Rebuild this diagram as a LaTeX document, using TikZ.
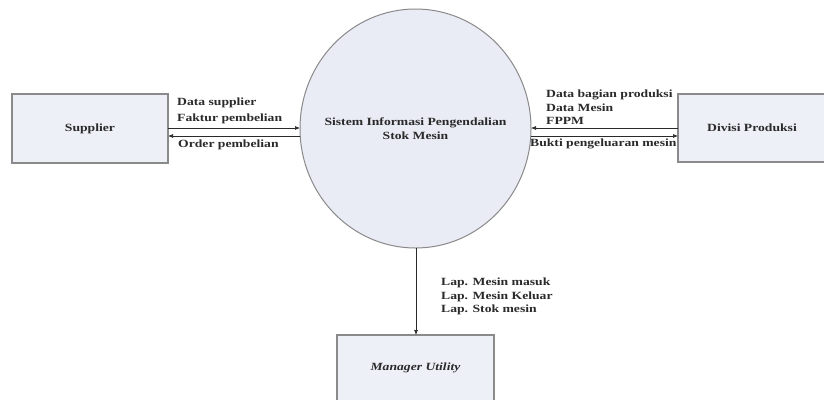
\documentclass[tikz,border=0pt]{standalone}
\usepackage{fontspec}
\setmainfont{Liberation Serif}[FakeStretch=1.24]
\usetikzlibrary{arrows.meta}
\definecolor{boxfill}{HTML}{EEF0F8}
\definecolor{circfill}{HTML}{E9EBF5}
\definecolor{edgegray}{HTML}{8A8A8A}
\definecolor{txt}{HTML}{2A2A2A}
\tikzset{
  entity/.style={draw=edgegray, line width=1.2pt, fill=boxfill},
  proc/.style={draw=edgegray, line width=1pt, fill=circfill},
  flow/.style={draw=txt, line width=0.7pt, -{Latex[length=5pt,width=4pt]}},
  lbl/.style={font=\fontsize{11}{13.5}\selectfont\bfseries, text=txt, inner sep=0pt, align=left},
  ctr/.style={font=\fontsize{11}{13.5}\selectfont\bfseries, text=txt, inner sep=0pt, align=center}
}
\begin{document}
\begin{tikzpicture}[x=1pt,y=-1pt]
\clip (0,0) rectangle (824,399);
\useasboundingbox (0,0) rectangle (824,399);
\fill[white] (0,0) rectangle (824,399);
% entities
\draw[entity] (12,94) rectangle (168,163);
\node[ctr] (sup) at (90,128.5) {Supplier};
\draw[entity] (678,94) rectangle (830,162);
\node[ctr] (div) at (752,128) {Divisi Produksi};
\draw[entity] (337,335) rectangle (494,405);
\node[ctr, font=\fontsize{11}{13.5}\selectfont\bfseries\itshape] (man) at (415.5,368) {Manager Utility};
% process
\draw[proc] (415.5,128.5) ellipse [x radius=115.5, y radius=119.5];
\node[ctr] (sys) at (415.5,128.5) {Sistem Informasi Pengendalian\\Stok Mesin};
% coordinates
\coordinate (s1) at (168,128);
\coordinate (c1) at (300,128);
\coordinate (s2) at (168,136);
\coordinate (c2) at (300,136);
\coordinate (c3) at (531,128);
\coordinate (d3) at (678,128);
\coordinate (c4) at (531,136);
\coordinate (d4) at (678,136);
\coordinate (cb) at (416,248);
\coordinate (mt) at (416,335);
% flows
\draw[flow] (s1) -- (c1);
\draw[flow] (c2) -- (s2);
\draw[flow] (d3) -- (c3);
\draw[flow] (c4) -- (d4);
\draw[flow] (cb) -- (mt);
% labels
\node[lbl, anchor=west] (l1) at (177,103) {Data supplier};
\node[lbl, anchor=west] (l2) at (177,119) {Faktur pembelian};
\node[lbl, anchor=west] (l3) at (178,145) {Order pembelian};
\node[lbl, anchor=west] (l4) at (546,95) {Data bagian produksi};
\node[lbl, anchor=west] (l5) at (546,108) {Data Mesin};
\node[lbl, anchor=west] (l6) at (546,121) {FPPM};
\node[lbl, anchor=west] (l7) at (530,144) {Bukti pengeluaran mesin};
\node[lbl, anchor=west] (l8) at (441,283) {Lap. Mesin masuk};
\node[lbl, anchor=west] (l9) at (441,297) {Lap. Mesin Keluar};
\node[lbl, anchor=west] (l10) at (441,310) {Lap. Stok mesin};
\end{tikzpicture}
\end{document}
